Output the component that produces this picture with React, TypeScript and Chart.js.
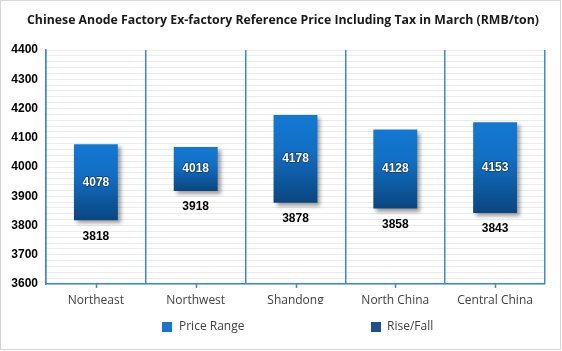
import React, { useEffect, useRef } from "react";
import { Chart, registerables } from "chart.js";

Chart.register(...registerables);

const TITLE = "Chinese Anode Factory Ex-factory Reference Price Including Tax in March (RMB/ton)";
const categories = ["Northeast", "Northwest", "Shandong", "North China", "Central China"];
const lowValues = [3818, 3918, 3878, 3858, 3843];
// bar tops as drawn in the reference (Northwest bar reaches ~4068)
const highValues = [4078, 4068, 4178, 4128, 4153];
// printed labels at the top of each range
const highLabels = ["4078", "4018", "4178", "4128", "4153"];
const lowLabels = ["3818", "3918", "3878", "3858", "3843"];
const legendLabels = ["Price Range", "Rise/Fall"];
const legendColors = ["#1676cf", "#1f4f8e"];
const yMin = 3600;
const yMax = 4400;
const yLabelStep = 100;
const yGridStep = 20;

const AXIS_BLUE = "#3a8bd6";

export default function App() {
  const ref = useRef<HTMLCanvasElement | null>(null);

  useEffect(() => {
    document.body.style.margin = "0";
    const canvas = ref.current;
    if (!canvas) return;

    const overlay = {
      id: "overlay",
      beforeDatasetsDraw(chart: any) {
        const ctx = chart.ctx;
        ctx.save();
        ctx.shadowColor = "rgba(0,0,0,0.38)";
        ctx.shadowBlur = 4;
        ctx.shadowOffsetX = 3;
        ctx.shadowOffsetY = 3;
      },
      afterDatasetsDraw(chart: any) {
        const ctx = chart.ctx;
        ctx.restore();
        const meta = chart.getDatasetMeta(0);
        const y = chart.scales.y;
        ctx.save();
        ctx.textAlign = "center";
        ctx.textBaseline = "middle";
        meta.data.forEach((bar: any, i: number) => {
          const top = y.getPixelForValue(highValues[i]);
          const bot = y.getPixelForValue(lowValues[i]);
          const mid = (top + bot) / 2;
          ctx.font = "bold 12px 'Liberation Sans', Arial, sans-serif";
          ctx.lineWidth = 1.5;
          ctx.strokeStyle = "rgba(10,50,100,0.8)";
          ctx.lineJoin = "round";
          ctx.strokeText(highLabels[i], bar.x, mid);
          ctx.fillStyle = "#ffffff";
          ctx.fillText(highLabels[i], bar.x, mid);
          ctx.fillStyle = "#000000";
          ctx.fillText(lowLabels[i], bar.x, bot + 16);
        });
        ctx.restore();
      },
      afterDraw(chart: any) {
        const ctx = chart.ctx;
        const area = chart.chartArea;
        const x = chart.scales.x;
        ctx.save();
        ctx.strokeStyle = AXIS_BLUE;
        ctx.lineWidth = 1.5;
        categories.forEach((_, i) => {
          const px = Math.round(x.getPixelForValue(i)) + 0.5;
          ctx.beginPath();
          ctx.moveTo(px, area.bottom);
          ctx.lineTo(px, area.bottom + 4);
          ctx.stroke();
        });
        ctx.fillStyle = "#1a1a1a";
        ctx.font = "bold 12.3px 'Open Sans', sans-serif";
        ctx.textAlign = "center";
        ctx.textBaseline = "middle";
        ctx.fillText(TITLE, 283, 20);
        const items = [
          { x: 162, tx: 179 },
          { x: 371, tx: 387 },
        ];
        ctx.textAlign = "left";
        ctx.font = "12px 'Open Sans', sans-serif";
        items.forEach((it, i) => {
          ctx.fillStyle = legendColors[i];
          ctx.fillRect(it.x, 322, 10, 10);
          ctx.fillStyle = "#404040";
          ctx.fillText(legendLabels[i], it.tx, 327);
        });
        ctx.restore();
      },
    };

    const chart = new Chart(canvas, {
      type: "bar",
      data: {
        labels: categories,
        datasets: [
          {
            label: legendLabels[0],
            data: lowValues.map((l, i) => [l, highValues[i]]) as any,
            backgroundColor: (c: any) => {
              const ch = c.chart;
              if (!ch.chartArea || !Array.isArray(c.raw)) return "#1470c0";
              const ys = ch.scales.y;
              const top = ys.getPixelForValue(c.raw[1]);
              const bot = ys.getPixelForValue(c.raw[0]);
              const g = ch.ctx.createLinearGradient(0, top, 0, bot);
              g.addColorStop(0, "#1478d2");
              g.addColorStop(0.4, "#116fc4");
              g.addColorStop(1, "#0a4680");
              return g;
            },
            borderWidth: 0,
            categoryPercentage: 1,
            barPercentage: 0.44,
          },
        ],
      },
      options: {
        responsive: true,
        maintainAspectRatio: false,
        animation: false,
        layout: { padding: { top: 50, right: 17, bottom: 47, left: 0 } },
        plugins: {
          legend: { display: false },
          title: { display: false },
          tooltip: { enabled: false },
        },
        scales: {
          x: {
            grid: {
              offset: true,
              color: AXIS_BLUE,
              lineWidth: 1.5,
              drawTicks: false,
              z: 1,
            },
            border: { color: AXIS_BLUE, width: 1.5, z: 1 },
            ticks: {
              color: "#404040",
              padding: 9,
              font: { family: "'Open Sans', sans-serif", size: 12 },
            },
            afterFit: (s: any) => {
              s.height = 20;
            },
          },
          y: {
            min: yMin,
            max: yMax,
            grid: { color: "#ebebeb", lineWidth: 1, drawTicks: false, z: -1 },
            border: { color: AXIS_BLUE, width: 1.5, z: 1 },
            ticks: {
              stepSize: yGridStep,
              autoSkip: false,
              padding: 8,
              color: "#000000",
              font: { family: "'Liberation Sans', Arial, sans-serif", size: 12, weight: "bold" },
              callback: (v: any) => (Number(v) % yLabelStep === 0 ? String(v) : ""),
            },
            afterFit: (s: any) => {
              s.width = 46;
            },
          },
        },
      },
      plugins: [overlay],
    });

    return () => chart.destroy();
  }, []);

  return (
    <div
      style={{
        position: "relative",
        width: 562,
        height: 351,
        boxSizing: "border-box",
        background: "#ffffff",
      }}
    >
      <canvas ref={ref} />
      <div
        style={{
          position: "absolute",
          left: 0,
          top: 0,
          width: 559,
          height: 348,
          border: "1px solid #d6d6d6",
          pointerEvents: "none",
        }}
      />
    </div>
  );
}
